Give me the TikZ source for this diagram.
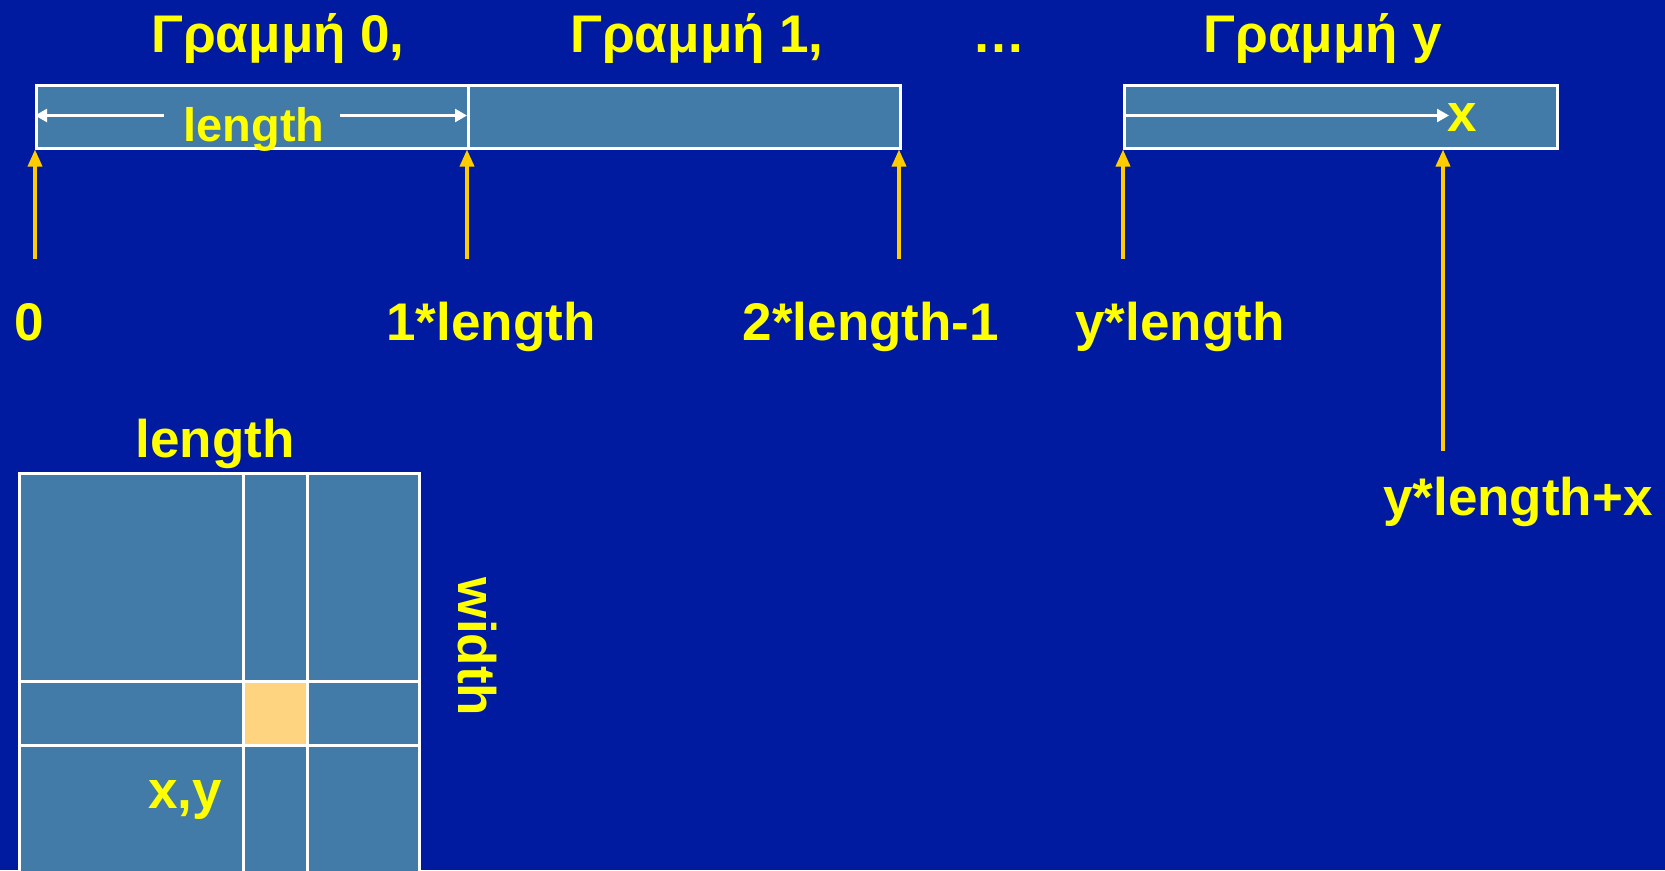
\documentclass[tikz,border=0pt]{standalone}
\usepackage{fontspec}
\setmainfont{Liberation Sans}
\usetikzlibrary{arrows.meta}
\definecolor{bgblue}{RGB}{0,26,160}
\definecolor{cellblue}{RGB}{66,122,168}
\definecolor{txtyellow}{RGB}{255,255,0}
\definecolor{arryellow}{RGB}{255,204,0}
\definecolor{cellorange}{RGB}{255,212,128}
\tikzset{
  lbl/.style={anchor=base, inner sep=0pt, text=txtyellow, font=\bfseries\fontsize{53}{60}\selectfont},
  barcell/.style={draw=white, line width=2.5pt, fill=cellblue, inner sep=0pt, anchor=north west, minimum height=63pt},
  yarrow/.style={draw=arryellow, line width=3.5pt, -{Triangle[length=17pt,width=14pt]}},
  warrow/.style={draw=white, line width=2.5pt, -{Triangle[length=12pt,width=13pt]}},
  gridline/.style={draw=white, line width=3pt}
}
\begin{document}
\begin{tikzpicture}[x=1pt,y=-1pt]
\useasboundingbox (0,0) rectangle (1665,870);
\fill[bgblue] (0,0) rectangle (1665,870);
\clip (0,0) rectangle (1665,870);
% titles
\node[lbl] (t0) at (278,52) {Γραμμή 0,};
\node[lbl] (t1) at (697,52) {Γραμμή 1,};
\node[lbl] (tdots) at (999,52) {…};
\node[lbl] (ty) at (1323,52) {Γραμμή y};
% bars
\node[barcell, minimum width=432pt] (r0) at (35,84) {};
\node[barcell, minimum width=432pt] (r1) at (467,84) {};
\node[barcell, minimum width=433pt] (ry) at (1123,84) {};
% inner arrows
\coordinate (la) at (164,115.5);
\coordinate (lb) at (340,115.5);
\draw[warrow] (la) -- (la -| r0.west);
\draw[warrow] (lb) -- (lb -| r1.west);
\node[lbl, font=\bfseries\fontsize{47}{54}\selectfont] (len0) at (254,141) {length};
\coordinate (xa) at (1449,115.5);
\draw[warrow] (xa -| ry.west) -- (xa);
\node[lbl] (xl) at (1462,131) {x};
% yellow arrows
\coordinate (s0) at (35,259);
\coordinate (s1) at (467,259);
\coordinate (s2) at (899,259);
\coordinate (s3) at (1123,259);
\coordinate (s4) at (1443,451);
\draw[yarrow] (s0) -- (s0 |- r0.south);
\draw[yarrow] (s1) -- (s1 |- r0.south);
\draw[yarrow] (s2) -- (s2 |- r1.south);
\draw[yarrow] (s3) -- (s3 |- ry.south);
\draw[yarrow] (s4) -- (s4 |- ry.south);
% labels
\node[lbl] (l0) at (29,340) {0};
\node[lbl] (l1) at (491,340) {1*length};
\node[lbl] (l2) at (871,340) {2*length-1};
\node[lbl] (l3) at (1180,340) {y*length};
\node[lbl] (l4) at (1518,515) {y*length+x};
% grid
\fill[cellblue] (19,473) rectangle (419,900);
\fill[cellorange] (243,681) rectangle (307,745);
\draw[gridline] (19,900) -- (19,473) -- (419,473) -- (419,900);
\draw[gridline] (243,473) -- (243,900);
\draw[gridline] (307,473) -- (307,900);
\draw[gridline] (19,681) -- (419,681);
\draw[gridline] (19,745) -- (419,745);
\node[lbl] (glen) at (215,457) {length};
\node[lbl, rotate=-90] (gwid) at (458,647) {width};
\node[lbl] (gxy) at (185,808) {x,y};
\end{tikzpicture}
\end{document}
